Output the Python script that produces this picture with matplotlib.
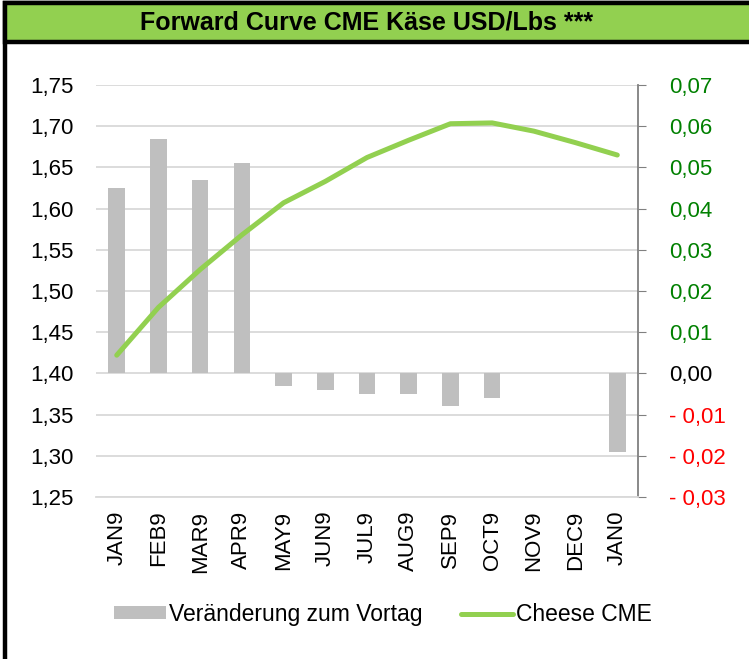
import matplotlib.pyplot as plt
import numpy as np
from matplotlib.patches import Rectangle
from matplotlib.ticker import FuncFormatter

plt.rcParams['font.family'] = ['Liberation Sans', 'DejaVu Sans']

months = ["JAN9", "FEB9", "MAR9", "APR9", "MAY9", "JUN9", "JUL9",
          "AUG9", "SEP9", "OCT9", "NOV9", "DEC9", "JAN0"]
cheese = [1.422, 1.480, 1.526, 1.568, 1.607, 1.633, 1.662,
          1.683, 1.703, 1.704, 1.694, 1.680, 1.665]
change = [0.045, 0.057, 0.047, 0.051, -0.003, -0.004, -0.005,
          -0.005, -0.008, -0.006, 0.0, 0.0, -0.019]

green = "#92D050"
bar_grey = "#BFBFBF"
fs = 16

fig = plt.figure(figsize=(7.49, 6.59), dpi=100)

# frame (cropped on the right and bottom) + title bar
fig.patches.append(Rectangle((0.007, -0.05), 1.1, 1.045, transform=fig.transFigure,
                             fill=False, edgecolor="black", linewidth=3.2))
fig.patches.append(Rectangle((0.007, 0.937), 1.1, 0.058, transform=fig.transFigure,
                             facecolor=green, edgecolor="black", linewidth=3.2))
fig.text(0.49, 0.966, "Forward Curve CME Käse USD/Lbs ***", ha="center", va="center",
         fontsize=18, fontweight="bold")

ax = fig.add_axes([0.128, 0.246, 0.724, 0.625])
ax2 = ax.twinx()
ax.set_zorder(ax2.get_zorder() + 1)
ax.patch.set_visible(False)

x = np.arange(len(months))

# bars on right axis
ax2.bar(x, change, width=0.4, color=bar_grey, label="Veränderung zum Vortag", zorder=2)
ax2.set_ylim(-0.03, 0.07)
ax2.set_yticks(np.arange(-0.03, 0.0701, 0.01))
ax2.grid(axis="y", color="#D9D9D9", linewidth=1.3, zorder=0)
ax2.set_axisbelow(True)


def right_fmt(v, pos):
    v = round(v, 3)
    if v < 0:
        return "- " + f"{-v:.2f}".replace(".", ",")
    return f"{v:.2f}".replace(".", ",")


ax2.yaxis.set_major_formatter(FuncFormatter(right_fmt))
ax2.tick_params(axis="y", labelsize=fs, length=6, color="#808080", pad=16)
for lab, v in zip(ax2.get_yticklabels(), ax2.get_yticks()):
    v = round(v, 3)
    lab.set_color("red" if v < 0 else ("black" if v == 0 else "green"))

# line on left axis
ax.plot(x, cheese, color=green, linewidth=3.6, label="Cheese CME", solid_capstyle="round")
ax.set_ylim(1.25, 1.75)
ax.set_yticks(np.arange(1.25, 1.7501, 0.05))
ax.yaxis.set_major_formatter(FuncFormatter(lambda v, p: f"{v:.2f}".replace(".", ",")))
ax.tick_params(axis="y", labelsize=fs, length=0, pad=16)
ax.set_xlim(-0.5, len(months) - 0.5)
ax.set_xticks(x)
ax.set_xticklabels(months, rotation=90, fontsize=fs)
ax.tick_params(axis="x", length=0, pad=10)

for a in (ax, ax2):
    for s in ("top", "left", "right", "bottom"):
        a.spines[s].set_visible(False)
ax2.spines["right"].set_visible(True)
ax2.spines["right"].set_color("#808080")
ax2.spines["right"].set_linewidth(1.3)
ax2.spines["bottom"].set_visible(True)
ax2.spines["bottom"].set_color("#D9D9D9")
ax2.spines["bottom"].set_linewidth(1.3)

h1, l1 = ax2.get_legend_handles_labels()
h2, l2 = ax.get_legend_handles_labels()
fig.legend(h1 + h2, l1 + l2, loc="center", bbox_to_anchor=(0.511, 0.068), ncol=2,
           frameon=False, fontsize=16.5, handlelength=2.27, handletextpad=0.13,
           columnspacing=1.66, handleheight=0.45)

fig.savefig("out.png", dpi=100)
